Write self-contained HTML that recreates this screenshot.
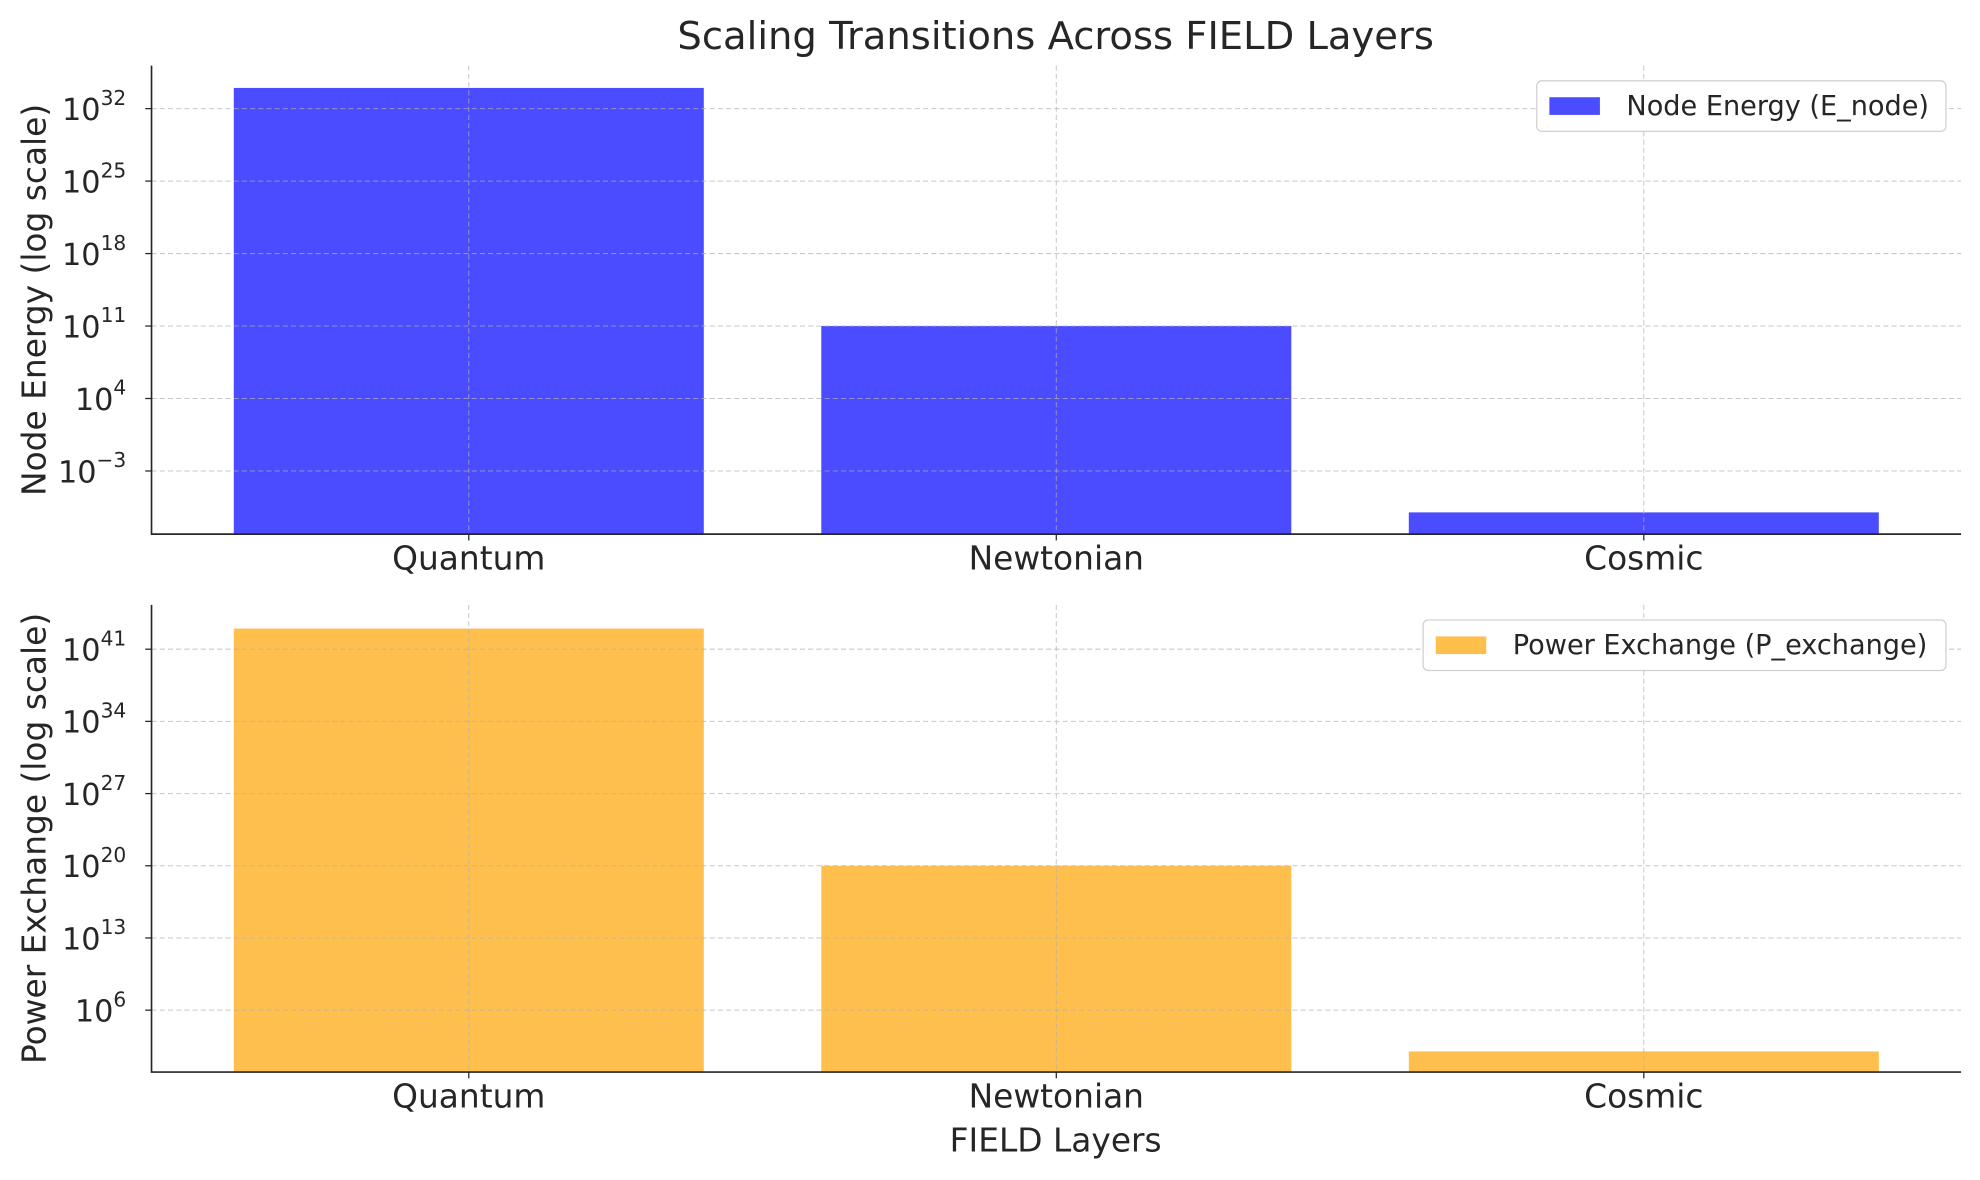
<!DOCTYPE html>
<html><head><meta charset="utf-8"><style>html,body{margin:0;padding:0;background:#fff}svg{display:block}text{font-family:"DejaVu Sans","Liberation Sans",sans-serif;fill:#262626}</style></head>
<body>
<svg id="chart" width="1980" height="1180" viewBox="0 0 1568 934.5" preserveAspectRatio="none" xmlns="http://www.w3.org/2000/svg">
<text x="836" y="39" font-size="30.5" text-anchor="middle">Scaling Transitions Across FIELD Layers</text>
<text x="836" y="912" font-size="26" text-anchor="middle">FIELD Layers</text>
</svg>
<script>
const categories = ["Quantum", "Newtonian", "Cosmic"];
const energyValues = [1e34, 1e11, 1e-7];
const powerValues = [1e43, 1e20, 1e2];
const energyTicks = [-3, 4, 11, 18, 25, 32];
const powerTicks = [6, 13, 20, 27, 34, 41];
const NS = "http://www.w3.org/2000/svg";
const svg = document.getElementById("chart");
function mk(tag, attrs, parent) {
  const e = document.createElementNS(NS, tag);
  for (const k in attrs) e.setAttribute(k, attrs[k]);
  (parent || svg).appendChild(e);
  return e;
}
function panel(cfg) {
  const g = mk("g", {});
  
  
  const L = 120, R = 1553, T = cfg.top, B = cfg.bottom;
  const y = v => B - (Math.log10(v) - cfg.lo) / (cfg.hi - cfg.lo) * (B - T);
  const yl = p => B - (p - cfg.lo) / (cfg.hi - cfg.lo) * (B - T);
  const step = (R - L) / 3.08;
  const x0 = L + (R - L - step * 2) / 2;
  const xc = i => x0 + i * step;
  const bw = step * 0.8;
  cfg.values.forEach((v, i) => {
    const r = mk("rect", {x: xc(i) - bw / 2, y: y(v), width: bw, height: B - y(v), fill: cfg.color}, g);
    
    
  });
  cfg.ticks.forEach(p => {
    const l = mk("line", {x1: L, x2: R, y1: yl(p), y2: yl(p), stroke: "#b0b0b0", "stroke-width": 0.8, "stroke-dasharray": "4,2.5", opacity: 0.7}, g);
    
    
    const t = mk("line", {x1: L - 5, x2: L, y1: yl(p), y2: yl(p), stroke: "#262626", "stroke-width": 1}, g);
    
    
    const tx = mk("text", {x: L - 20, y: yl(p) + 9, "font-size": 24, "text-anchor": "end"}, g);
    
    
    const a = mk("tspan", {}, tx); a.textContent = "10";
    const b = mk("tspan", {dy: -12, "font-size": 16}, tx); b.textContent = p < 0 ? "\u2212" + (-p) : String(p);
  });
  categories.forEach((c, i) => {
    const l = mk("line", {x1: xc(i), x2: xc(i), y1: T, y2: B, stroke: "#b0b0b0", "stroke-width": 0.8, "stroke-dasharray": "4,2.5", opacity: 0.7}, g);
    
    
    const t = mk("line", {x1: xc(i), x2: xc(i), y1: B, y2: B + 5, stroke: "#262626", "stroke-width": 1}, g);
    
    
    const tx = mk("text", {x: xc(i), y: B + 28, "font-size": 26, "text-anchor": "middle"}, g);
    tx.textContent = c;
    
    
  });
  const sp = mk("path", {d: `M${L},${T} V${B} H${R}`, fill: "none", stroke: "#262626", "stroke-width": 1.3}, g);
  
  
  const yt = mk("text", {x: 0, y: 0, "font-size": 26, "text-anchor": "middle", transform: `translate(36,${(T + B) / 2}) rotate(-90)`}, g);
  yt.textContent = cfg.ylabel;
  
  
  const lg = mk("g", {}, g);
  
  
  mk("rect", {x: cfg.legX, y: T + 12, width: 1541 - cfg.legX, height: 40, rx: 4, fill: "#fff", stroke: "#d0d0d0", "stroke-width": 1}, lg);
  const sw = mk("rect", {x: cfg.legX + 10, y: T + 25, width: 40, height: 14, fill: cfg.color}, lg);
  
  
  const lt = mk("text", {x: cfg.legX + 71, y: T + 39, "font-size": 21.5}, lg);
  lt.textContent = cfg.legend;
  
  
}
panel({name: "node-energy-panel", top: 52, bottom: 423, lo: -9.1, hi: 36.15, values: energyValues, ticks: energyTicks, color: "#4b4bff", ylabel: "Node Energy (log scale)", legend: "Node Energy (E_node)", legX: 1217});
panel({name: "power-exchange-panel", top: 479, bottom: 849, lo: 0, hi: 45.3, values: powerValues, ticks: powerTicks, color: "#ffbf4d", ylabel: "Power Exchange (log scale)", legend: "Power Exchange (P_exchange)", legX: 1127});
</script>
</body></html>
